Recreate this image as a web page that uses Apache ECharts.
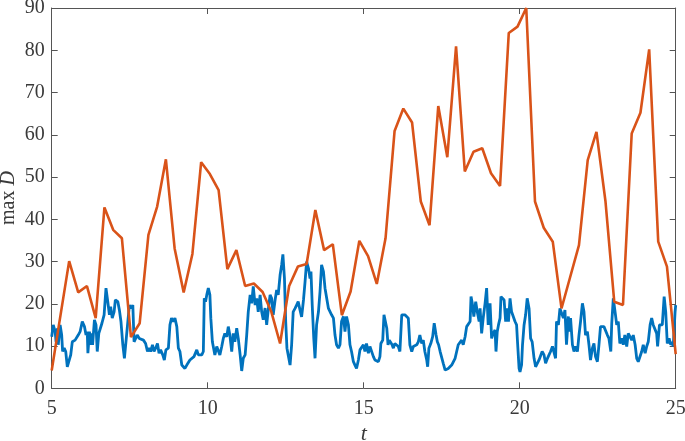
<!DOCTYPE html>
<html>
<head>
<meta charset="utf-8">
<script src="https://cdn.jsdelivr.net/npm/echarts@6/dist/echarts.min.js"></script>
<style>
html,body{margin:0;padding:0;background:#fff;}
#chart{width:685px;height:441px;}
</style>
</head>
<body>
<div id="chart"></div>
<script>
// Orange series (sampled maxima)
var orangeT = [5.00,5.28,5.56,5.85,6.13,6.41,6.69,6.97,7.25,7.54,7.82,8.10,8.38,8.66,8.94,9.23,9.51,9.79,10.07,10.35,10.63,10.92,11.20,11.48,11.76,12.04,12.32,12.61,12.89,13.17,13.45,13.73,14.01,14.30,14.58,14.86,15.14,15.42,15.70,15.99,16.27,16.55,16.83,17.11,17.39,17.68,17.96,18.24,18.52,18.80,19.08,19.37,19.65,19.93,20.21,20.49,20.77,21.06,21.34,21.62,21.90,22.18,22.46,22.75,23.03,23.31,23.59,23.87,24.15,24.44,24.72,25.00];
var orangeV = [4.2,17.2,30.1,22.7,24.2,16.6,42.8,37.5,35.5,12.1,15.4,36.3,43.0,54.2,33.1,22.7,31.8,53.5,50.7,46.9,28.2,32.7,24.2,24.8,22.8,18.1,10.6,24.2,28.8,29.4,42.2,32.7,34.1,17.3,22.9,34.9,31.3,24.7,35.5,60.9,66.2,62.9,44.2,38.6,66.8,54.7,80.9,51.3,56.0,56.8,50.9,47.9,84.1,85.6,90.0,44.2,38.0,34.7,18.9,26.4,33.9,54.0,60.7,44.2,20.5,19.7,60.3,65.2,80.2,34.7,28.8,8.1];

// Blue series
var blueT = [5.00,5.05,5.11,5.14,5.18,5.21,5.27,5.32,5.35,5.40,5.45,5.50,5.56,5.61,5.66,5.75,5.80,5.85,5.91,5.98,6.05,6.10,6.14,6.16,6.21,6.25,6.28,6.31,6.37,6.42,6.46,6.51,6.57,6.61,6.68,6.74,6.79,6.85,6.89,6.94,7.00,7.04,7.12,7.17,7.22,7.28,7.33,7.38,7.44,7.49,7.54,7.60,7.64,7.70,7.74,7.81,7.85,7.94,8.01,8.07,8.12,8.17,8.23,8.28,8.33,8.39,8.44,8.49,8.56,8.61,8.66,8.74,8.79,8.84,8.90,8.95,9.01,9.06,9.11,9.17,9.22,9.27,9.33,9.38,9.43,9.49,9.56,9.65,9.70,9.75,9.81,9.86,9.89,9.93,9.97,10.02,10.07,
10.10,10.15,10.20,10.23,10.29,10.34,10.39,10.45,10.50,10.55,10.61,10.66,10.71,10.77,10.82,10.87,10.93,10.98,11.04,11.09,11.14,11.20,11.25,11.30,11.36,11.41,11.46,11.52,11.57,11.62,11.68,11.73,11.78,11.84,11.89,11.94,12.00,12.05,12.10,12.16,12.21,12.26,12.32,12.37,12.41,12.46,12.50,12.54,12.58,12.64,12.69,12.74,12.80,12.85,12.90,12.96,13.01,13.07,13.12,13.17,13.23,13.28,13.31,13.35,13.40,13.44,13.49,13.55,13.60,13.65,13.71,13.76,13.81,13.87,13.92,13.97,14.03,14.08,14.13,14.19,14.24,14.29,14.35,14.40,14.45,14.51,14.56,14.61,14.67,14.72,14.77,14.83,14.88,14.93,14.99,
15.04,15.09,15.15,15.20,15.25,15.31,15.36,15.42,15.47,15.52,15.55,15.61,15.65,15.69,15.74,15.78,15.82,15.86,15.91,15.95,16.00,16.06,16.11,16.16,16.22,16.27,16.32,16.38,16.43,16.48,16.54,16.59,16.64,16.70,16.75,16.80,16.86,16.91,16.96,17.02,17.05,17.09,17.15,17.21,17.26,17.32,17.36,17.40,17.45,17.50,17.55,17.61,17.66,17.71,17.77,17.82,17.87,17.93,17.98,18.03,18.09,18.14,18.19,18.25,18.30,18.35,18.41,18.44,18.48,18.53,18.59,18.64,18.70,18.73,18.78,18.83,18.89,18.94,18.99,19.05,19.10,19.15,19.21,19.24,19.28,19.32,19.37,19.40,19.45,19.50,19.55,19.58,19.64,19.69,19.74,19.80,19.85,
19.90,19.93,19.98,20.01,20.06,20.09,20.14,20.19,20.24,20.30,20.35,20.40,20.46,20.51,20.56,20.62,20.67,20.72,20.78,20.83,20.89,20.94,20.99,21.05,21.10,21.15,21.18,21.24,21.29,21.34,21.40,21.45,21.50,21.56,21.59,21.63,21.69,21.74,21.79,21.85,21.90,21.95,22.01,22.06,22.11,22.17,22.22,22.27,22.33,22.38,22.43,22.49,22.54,22.59,22.65,22.70,22.76,22.81,22.86,22.92,22.95,23.00,23.05,23.11,23.16,23.21,23.27,23.32,23.37,23.43,23.48,23.53,23.59,23.64,23.70,23.75,23.80,23.86,23.91,23.96,24.02,24.07,24.12,24.18,24.23,24.28,24.32,24.39,24.42,24.48,24.53,24.57,24.63,24.68,24.73,24.79,24.84,24.89,24.92,24.98,25.00];
var blueV = [12.2,15.0,13.4,11.0,14.2,10.3,15.0,12.6,8.7,9.5,8.7,5.1,5.1,7.9,11.0,11.4,11.0,12.6,13.4,15.8,14.6,12.6,13.4,8.3,13.4,10.3,13.0,10.3,16.2,15.0,8.7,13.0,13.0,15.4,17.4,23.7,20.9,17.4,19.3,16.6,18.1,20.9,20.5,18.5,15.8,10.3,7.1,11.0,15.8,19.7,18.9,19.7,11.0,11.4,12.6,11.8,11.4,11.4,10.6,8.7,9.5,8.7,10.3,8.7,9.5,10.6,8.3,9.1,7.9,6.7,9.1,9.5,15.0,16.6,15.8,16.6,14.6,9.5,8.7,5.5,5.5,4.7,5.5,5.9,6.7,6.7,7.5,9.1,7.9,8.3,7.9,8.7,21.3,20.5,22.1,23.7,22.1,
16.6,11.0,11.4,7.9,9.9,9.5,7.9,9.9,11.8,13.0,12.2,14.6,12.6,8.7,13.0,11.0,14.2,11.8,7.9,4.1,7.1,7.9,12.6,18.1,22.1,20.1,24.1,19.7,21.3,18.1,22.1,18.1,16.2,19.0,15.0,18.5,22.1,21.3,17.4,20.9,23.3,22.1,26.8,29.2,31.7,26.0,15.8,9.5,7.9,5.5,10.3,18.1,18.9,19.7,20.5,18.5,16.9,20.9,25.2,30.0,28.4,26.0,27.6,19.7,11.8,7.1,15.0,18.1,22.9,29.2,27.6,23.7,23.3,18.9,19.3,17.4,16.6,12.6,10.3,9.5,10.3,15.8,17.0,13.4,17.0,15.0,10.3,8.7,6.3,5.5,4.7,6.7,9.1,9.5,10.3,
8.7,10.6,8.3,9.9,10.3,7.5,6.7,6.3,6.3,7.5,10.6,11.4,17.4,17.7,14.2,10.3,11.4,11.0,10.3,9.5,10.6,11.0,9.9,8.7,17.4,17.4,17.4,17.7,16.6,10.3,8.7,9.9,9.9,10.3,11.0,12.6,10.6,11.4,8.7,6.7,5.1,9.5,10.6,12.2,15.4,12.6,11.0,10.3,8.7,8.3,5.9,4.3,4.7,4.7,5.1,5.5,5.9,7.1,8.7,10.3,10.3,11.4,10.3,12.2,14.6,15.0,15.8,21.7,20.1,17.0,20.5,18.1,15.8,18.9,13.0,16.6,20.1,23.7,15.0,20.1,11.8,13.0,13.8,8.7,13.4,15.0,16.6,21.7,21.3,20.9,15.8,18.9,15.8,21.3,18.1,17.7,15.8,
15.0,11.0,4.7,3.9,5.5,10.3,15.0,17.4,21.3,18.9,11.8,11.0,7.1,5.1,5.1,6.7,7.1,8.7,7.9,5.9,7.1,7.9,8.7,9.9,9.5,7.1,15.8,15.0,18.9,18.9,16.6,18.5,10.3,17.0,13.4,16.6,10.3,8.7,9.9,8.7,12.6,15.8,20.1,18.1,12.6,13.4,10.3,6.7,9.5,10.6,7.5,6.3,10.3,14.6,15.0,14.6,15.0,12.6,11.8,8.7,15.4,21.3,18.5,15.0,15.8,10.6,11.8,10.3,12.6,9.9,13.0,12.6,11.4,12.6,10.3,7.1,6.3,6.7,8.7,10.3,8.3,9.9,11.0,15.0,16.6,15.0,15.4,13.0,9.9,15.0,14.6,15.0,21.7,18.1,10.6,11.8,10.3,11.0,9.9,18.1,19.7];

var xTicks = [5, 10, 15, 20, 25];
var yTicks = [0, 10, 20, 30, 40, 50, 60, 70, 80, 90];

function pairs(t, v) { return t.map(function (x, i) { return [x, v[i]]; }); }

var FONT = 'Liberation Serif';
var TXT = '#3a3a3a';
var AX = '#555555';

var chart = echarts.init(document.getElementById('chart'), null, { renderer: 'canvas' });
var tickStyle = { show: true, inside: true, length: 6, lineStyle: { color: AX, width: 1 } };
chart.setOption({
  animation: false,
  backgroundColor: '#ffffff',
  grid: { left: 51.7, right: 9.3, top: 8, bottom: 52.7, containLabel: false, outerBoundsMode: 'none' },
  graphic: [{
    type: 'text', x: 9, y: 198, rotation: Math.PI / 2,
    style: {
      text: '{n|max }{d|D}', align: 'center', verticalAlign: 'middle',
      fill: TXT, font: '20px "Liberation Serif"',
      rich: {
        n: { fill: TXT, fontFamily: FONT, fontSize: 20 },
        d: { fill: TXT, fontFamily: FONT, fontSize: 20, fontStyle: 'italic' }
      }
    }
  }],
  xAxis: [{
    type: 'value', min: xTicks[0], max: xTicks[xTicks.length - 1], interval: 5,
    axisLine: { show: true, onZero: false, lineStyle: { color: AX, width: 1 } },
    axisTick: tickStyle, splitLine: { show: false },
    axisLabel: { color: TXT, fontFamily: FONT, fontSize: 20, margin: 10 },
    name: 't', nameLocation: 'middle', nameGap: 34,
    nameTextStyle: { color: TXT, fontFamily: FONT, fontSize: 22, fontStyle: 'italic' }
  }, {
    type: 'value', position: 'top', min: xTicks[0], max: xTicks[xTicks.length - 1], interval: 5,
    axisLine: { show: true, onZero: false, lineStyle: { color: AX, width: 1 } },
    axisTick: tickStyle, axisLabel: { show: false }, splitLine: { show: false }
  }],
  yAxis: [{
    type: 'value', min: yTicks[0], max: yTicks[yTicks.length - 1], interval: 10,
    axisLine: { show: true, onZero: false, lineStyle: { color: AX, width: 1 } },
    axisTick: tickStyle, splitLine: { show: false },
    axisLabel: { color: TXT, fontFamily: FONT, fontSize: 20, margin: 7 }
  }, {
    type: 'value', position: 'right', min: yTicks[0], max: yTicks[yTicks.length - 1], interval: 10,
    axisLine: { show: true, onZero: false, lineStyle: { color: AX, width: 1 } },
    axisTick: tickStyle, axisLabel: { show: false }, splitLine: { show: false }
  }],
  series: [{
    type: 'line', data: pairs(blueT, blueV), showSymbol: false, symbol: 'none',
    lineStyle: { color: '#0072BD', width: 2.8 }, xAxisIndex: 0, yAxisIndex: 0, z: 2
  }, {
    type: 'line', data: pairs(orangeT, orangeV), showSymbol: false, symbol: 'none',
    lineStyle: { color: '#D95319', width: 2.6 }, xAxisIndex: 0, yAxisIndex: 0, z: 3
  }]
});
</script>
</body>
</html>
